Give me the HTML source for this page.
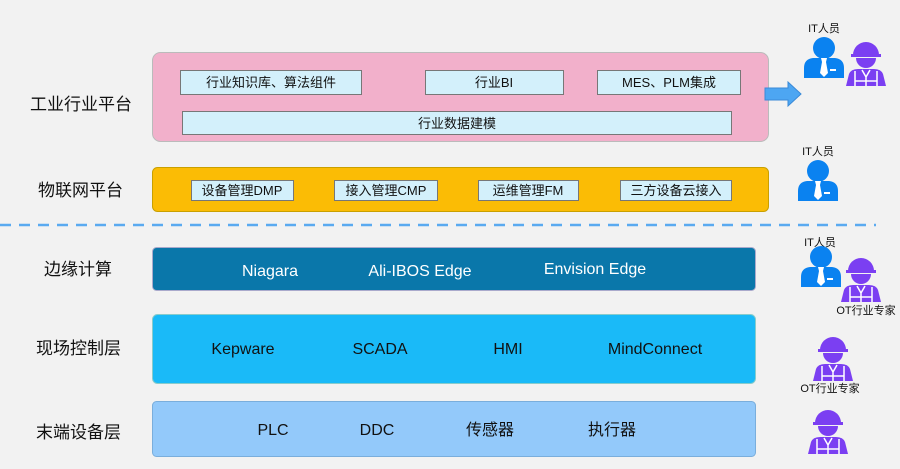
<!DOCTYPE html>
<html><head><meta charset="utf-8"><style>
body{margin:0;background:#f2f2f2;}
svg text{font-family:"Liberation Sans","Noto Sans CJK SC",sans-serif;}
</style></head><body>
<svg width="900" height="464" viewBox="0 0 900 464" xmlns="http://www.w3.org/2000/svg">
<defs>
<g id="it">
<circle cx="0" cy="0" r="11" fill="#0a82f0"/>
<path d="M-20,30 L-20,20 Q-20,11 -11,10 L11,10 Q20,11 20,20 L20,30 Z" fill="#0a82f0"/>
<polygon points="-3,10 3,10 2,14 4,25 0,29 -4,25 -2,14" fill="#fff"/>
<rect x="6" y="21" width="6" height="2" fill="#fff"/>
</g>
<g id="ot">
<path d="M-13,0 A13,13 0 0 1 13,0 Z" fill="#7b3ff2"/>
<rect x="-15" y="-1" width="30" height="3" fill="#7b3ff2"/>
<path d="M-10,3 A10,10 0 0 0 10,3 Z" fill="#7b3ff2"/>
<path d="M-20,31 L-17,19 Q-15,14 -8,14 L8,14 Q15,14 17,19 L20,31 Z" fill="#7b3ff2"/>
<path d="M-11,16 L-11,31 M11,16 L11,31 M-4,15 L0,22 L4,15 M0,22 L0,31 M-11,26 L11,26" stroke="#fff" stroke-width="1.5" fill="none"/>
</g>
</defs>
<g font-size="17" fill="#111">
<text x="30" y="110">工业行业平台</text>
<text x="38" y="196">物联网平台</text>
<text x="44" y="275">边缘计算</text>
<text x="36" y="354">现场控制层</text>
<text x="36" y="438">末端设备层</text>
</g>
<rect x="152.5" y="52.5" width="616" height="89" rx="8" fill="#f2b0cb" stroke="#bbb"/>
<g fill="#d3f0fb" stroke="#777">
<rect x="180.5" y="70.5" width="181" height="24"/>
<rect x="425.5" y="70.5" width="138" height="24"/>
<rect x="597.5" y="70.5" width="143" height="24"/>
<rect x="182.5" y="111.5" width="549" height="23"/>
</g>
<g font-size="13" fill="#111" text-anchor="middle">
<text x="271" y="87">行业知识库、算法组件</text>
<text x="494" y="87">行业BI</text>
<text x="669" y="87">MES、PLM集成</text>
<text x="457" y="128">行业数据建模</text>
</g>
<rect x="152.5" y="167.5" width="616" height="44" rx="5" fill="#fbbc05" stroke="#c9a000"/>
<g fill="#d3f0fb" stroke="#777">
<rect x="191.5" y="180.5" width="102" height="20"/>
<rect x="334.5" y="180.5" width="103" height="20"/>
<rect x="478.5" y="180.5" width="100" height="20"/>
<rect x="620.5" y="180.5" width="111" height="20"/>
</g>
<g font-size="13" fill="#111" text-anchor="middle">
<text x="242" y="195">设备管理DMP</text>
<text x="386" y="195">接入管理CMP</text>
<text x="528" y="195">运维管理FM</text>
<text x="676" y="195">三方设备云接入</text>
</g>
<line x1="0" y1="225" x2="876" y2="225" stroke="#5aaaf0" stroke-width="2.5" stroke-dasharray="11,8"/>
<rect x="152.5" y="247.5" width="603" height="43" rx="4" fill="#0a77aa" stroke="#aac"/>
<g font-size="16" fill="#fff" text-anchor="middle">
<text x="270" y="276">Niagara</text>
<text x="420" y="276">Ali-IBOS Edge</text>
<text x="595" y="274">Envision Edge</text>
</g>
<rect x="152.5" y="314.5" width="603" height="69" rx="5" fill="#1abaf8" stroke="#8cc"/>
<g font-size="16" fill="#111" text-anchor="middle">
<text x="243" y="354">Kepware</text>
<text x="380" y="354">SCADA</text>
<text x="508" y="354">HMI</text>
<text x="655" y="354">MindConnect</text>
</g>
<rect x="152.5" y="401.5" width="603" height="55" rx="4" fill="#93c9fa" stroke="#7aaedc"/>
<g font-size="16" fill="#111" text-anchor="middle">
<text x="273" y="435">PLC</text>
<text x="377" y="435">DDC</text>
<text x="490" y="435">传感器</text>
<text x="612" y="435">执行器</text>
</g>
<polygon points="765,88 788,88 788,82 801,94 788,106 788,100 765,100" fill="#4da6f2" stroke="#3a8ad8"/>
<g font-size="11" fill="#111" text-anchor="middle">
<text x="824" y="32">IT人员</text>
<text x="818" y="155">IT人员</text>
<text x="820" y="246">IT人员</text>
<text x="866" y="314">OT行业专家</text>
<text x="830" y="392">OT行业专家</text>
</g>
<use href="#it" x="824" y="48"/>
<use href="#ot" x="866" y="55"/>
<use href="#it" x="818" y="171"/>
<use href="#it" x="821" y="257"/>
<use href="#ot" x="861" y="271"/>
<use href="#ot" x="833" y="350"/>
<use href="#ot" x="828" y="423"/>
</svg>
</body></html>
